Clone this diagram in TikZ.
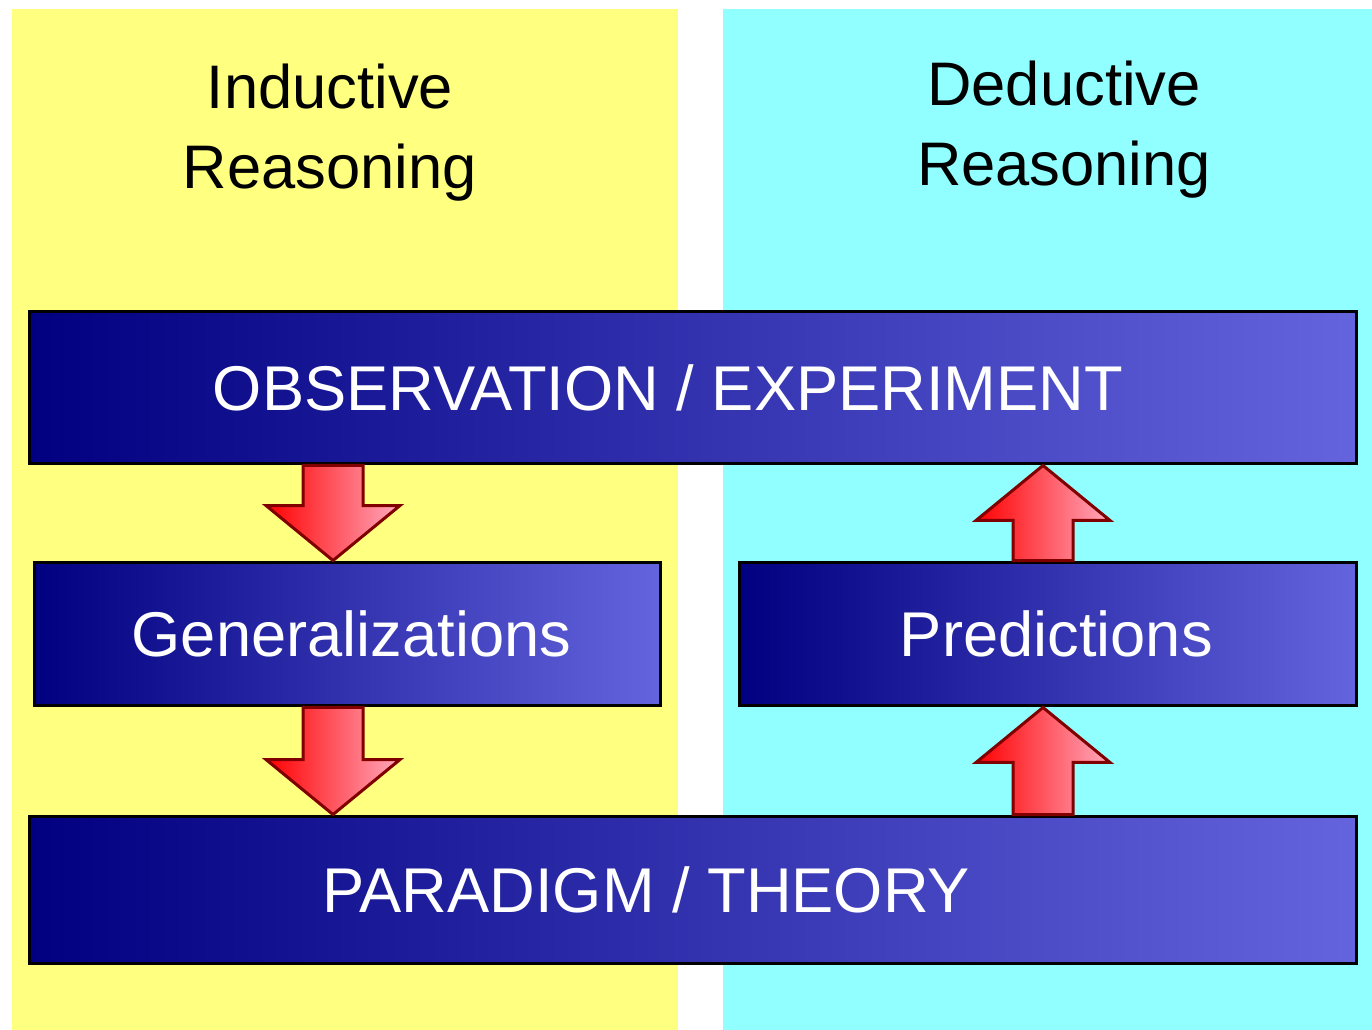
\documentclass[tikz,border=0pt]{standalone}
\usepackage{fontspec}
\setmainfont{Liberation Sans}
\usetikzlibrary{positioning,calc}

\definecolor{inducyellow}{RGB}{255,255,128}
\definecolor{deduccyan}{RGB}{145,255,255}
\definecolor{boxnavy}{RGB}{0,0,128}
\definecolor{boxlight}{RGB}{100,100,222}
\definecolor{arrowred}{RGB}{255,0,0}
\definecolor{arrowpink}{RGB}{255,170,190}
\definecolor{arrowedge}{RGB}{128,0,0}

\newcommand{\fatarrow}[2]{%
    \draw[fatarrow] ($(#1)+(-30,0)$) -- ($(#2)!1.1cm!(#1)+(-30,0)$)
        -- ($(#2)!1.1cm!(#1)+(-67,0)$) -- (#2)
        -- ($(#2)!1.1cm!(#1)+(67,0)$) -- ($(#2)!1.1cm!(#1)+(30,0)$)
        -- ($(#1)+(30,0)$) -- cycle;}

\begin{document}
\begin{tikzpicture}[
    x = 0.02cm, y = -0.02cm,
    node distance = 1.52cm,
    title/.style = {align=center, anchor=north, inner sep=0pt,
        font=\fontsize{35}{45.5}\selectfont},
    stagebox/.style = {draw=black, line width=0.06cm, left color=boxnavy,
        right color=boxlight, text=white, inner sep=0pt,
        font=\fontsize{36}{43}\selectfont, text height=25.8pt, text depth=0pt},
    fatarrow/.style = {draw=arrowedge, line width=0.06cm, line join=miter,
        left color=arrowred, right color=arrowpink}
]
    \useasboundingbox (0,0) rectangle (1372,1030);
    \fill[inducyellow] (12,9) rectangle (678,1030);
    \fill[deduccyan] (723,9) rectangle (1372,1030);

    \node[title] (indtitle) at (330,64) {Inductive\\Reasoning};
    \node[title] (dedtitle) at (1064,61) {Deductive\\Reasoning};

    \node[stagebox, minimum width=26.56cm, minimum height=3.06cm] (obs)
        at (693,387.5) {OBSERVATION / EXPERIMENT\hspace*{1cm}};
    \node[stagebox, minimum width=12.54cm, minimum height=2.88cm] (gen)
        at (347.5,634) {\hspace*{0.16cm}Generalizations};
    \node[stagebox, minimum width=12.34cm, minimum height=2.88cm,
        right=of gen] (pred) {\hspace*{0.32cm}Predictions};
    \node[stagebox, minimum width=26.56cm, minimum height=2.96cm] (par)
        at (693,890) {PARADIGM / THEORY\hspace*{1.88cm}};

    \coordinate (indaxis) at (333,0);
    \coordinate (dedaxis) at (1043,0);

    \fatarrow{obs.south -| indaxis}{gen.north -| indaxis}
    \fatarrow{gen.south -| indaxis}{par.north -| indaxis}
    \fatarrow{pred.north -| dedaxis}{obs.south -| dedaxis}
    \fatarrow{par.north -| dedaxis}{pred.south -| dedaxis}
\end{tikzpicture}
\end{document}
